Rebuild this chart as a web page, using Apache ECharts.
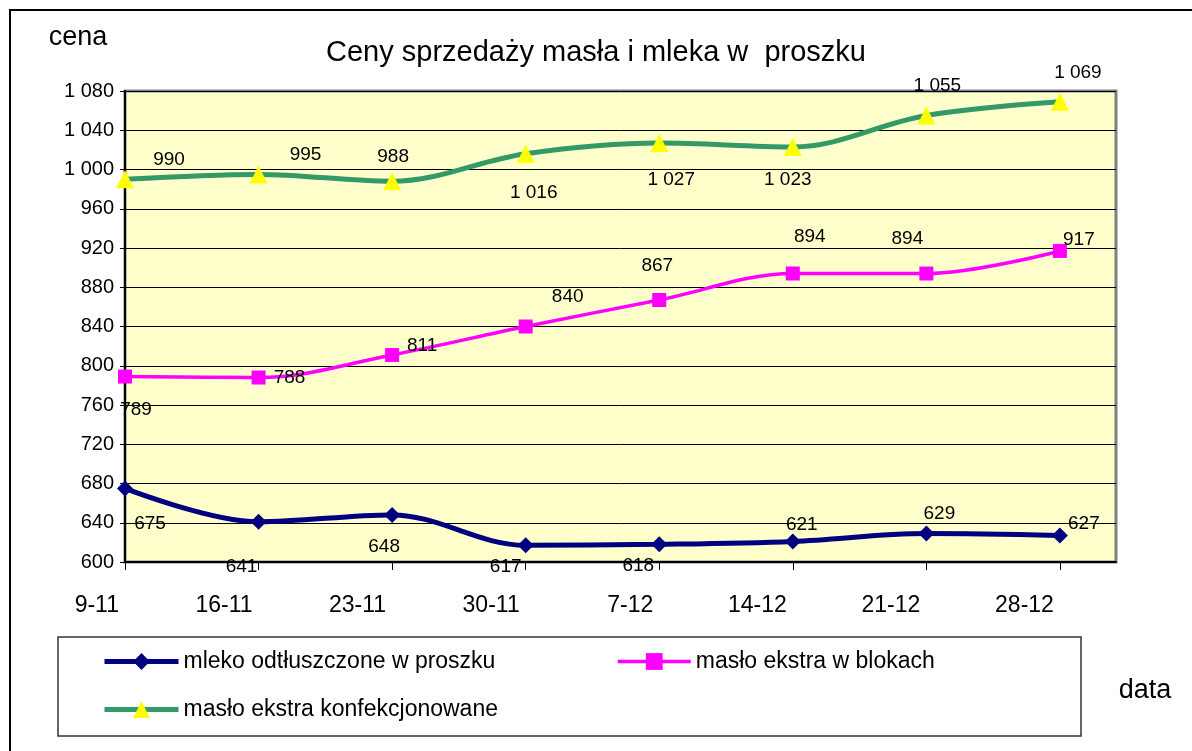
<!DOCTYPE html>
<html>
<head>
<meta charset="UTF-8">
<script src="https://cdn.jsdelivr.net/npm/echarts@6/dist/echarts.min.js"></script>
<style>
html, body { margin: 0; padding: 0; background: #fff; }
#chart { width: 1192px; height: 751px; }
</style>
</head>
<body>
<div id="chart"></div>
<script>
// tygodnie (oś X)
var weeks = ['9-11', '16-11', '23-11', '30-11', '7-12', '14-12', '21-12', '28-12'];
// ceny
var mleko = [675, 641, 648, 617, 618, 621, 629, 627];
var masloBloki = [789, 788, 811, 840, 867, 894, 894, 917];
var masloKonf = [990, 995, 988, 1016, 1027, 1023, 1055, 1069];
var names = ['mleko odtłuszczone w proszku', 'masło ekstra w blokach', 'masło ekstra konfekcjonowane'];

// przesunięcia etykiet względem punktów (jak w oryginale)
var mlekoLabelPos = [[25, 35], [-17, 45], [-8, 32], [-20, 21], [-21, 21], [9, -17], [13, -20], [24, -12]];
var blokiLabelPos = [[11, 33], [31, 0], [30, -9], [42, -30], [-2, -34], [17, -37], [-19, -35], [19, -11]];
var konfLabelPos = [[44, -20], [47, -20], [1, -25], [8, 39], [12, 37], [-5, 33], [11, -30], [18, -29]];

var FONT = '"Liberation Sans", Arial, sans-serif';

function fmt(v) {
    v = Math.round(v);
    if (v >= 1000) {
        var r = String(v % 1000);
        while (r.length < 3) r = '0' + r;
        return Math.floor(v / 1000) + ' ' + r;
    }
    return String(v);
}

function pts(values, offs) {
    return values.map(function (v, i) {
        return { value: [i, v], label: { offset: offs[i] } };
    });
}

var weekIdx = weeks.map(function (w, i) { return i; });

var labelStyle = {
    show: true,
    position: 'inside',
    color: '#000',
    fontSize: 19,
    fontFamily: FONT,
    textBorderWidth: 0,
    formatter: function (p) { return fmt(p.value[1]); }
};

var legendCommon = {
    padding: 0, itemHeight: 21,
    lineStyle: { width: 'inherit' },
    textStyle: { fontSize: 23, color: '#000', fontFamily: FONT }
};

var option = {
    animation: false,
    backgroundColor: '#fff',
    title: {
        text: 'Ceny sprzedaży masła i mleka w  proszku',
        left: 'center',
        top: 33,
        padding: [5, 5, 5, 33],
        textStyle: { fontSize: 29, fontWeight: 'normal', color: '#000', fontFamily: FONT }
    },
    grid: {
        left: 125, top: 91, right: 76, bottom: 189,
        show: true,
        backgroundColor: '#FFFFCC',
        borderColor: '#808080',
        borderWidth: 3
    },
    legend: [
        Object.assign({ data: [names[0]], left: 102, top: 650, itemWidth: 74 }, legendCommon),
        Object.assign({ data: [names[1]], left: 616, top: 650, itemWidth: 73 }, legendCommon),
        Object.assign({ data: [names[2]], left: 102, top: 698, itemWidth: 74 }, legendCommon)
    ],
    xAxis: {
        type: 'value',
        min: 0,
        max: 7.42,
        interval: 1,
        axisLine: { show: true, lineStyle: { color: '#000', width: 2 } },
        axisTick: { show: true, length: 8, customValues: weekIdx, lineStyle: { color: '#000' } },
        axisLabel: {
            customValues: weekIdx,
            formatter: function (v) { return weeks[v] || ''; },
            align: 'right',
            padding: [0, 6, 0, 0],
            margin: 32,
            fontSize: 23,
            color: '#000',
            fontFamily: FONT
        },
        splitLine: { show: false }
    },
    yAxis: {
        type: 'value',
        min: 600,
        max: 1080,
        interval: 40,
        axisLine: { show: true, lineStyle: { color: '#000', width: 2 } },
        axisTick: { show: true, length: 5, lineStyle: { color: '#000' } },
        axisLabel: { margin: 11, fontSize: 20, color: '#000', fontFamily: FONT, formatter: fmt },
        splitLine: { show: true, lineStyle: { color: '#000', width: 1 } }
    },
    graphic: [
        { type: 'rect', silent: true, z: -10,
          shape: { x: 10, y: 10, width: 1400, height: 1000 },
          style: { fill: 'none', stroke: '#000', lineWidth: 2 } },
        { type: 'rect', silent: true,
          shape: { x: 58, y: 637, width: 1023, height: 99 },
          style: { fill: 'none', stroke: '#333', lineWidth: 1.5 } },
        { type: 'text', silent: true, x: 78, y: 38,
          style: { text: 'cena', fill: '#000', font: '27px ' + FONT, align: 'center', verticalAlign: 'middle' } },
        { type: 'text', silent: true, x: 1145, y: 691,
          style: { text: 'data', fill: '#000', font: '27px ' + FONT, align: 'center', verticalAlign: 'middle' } }
    ],
    series: [
        {
            name: names[0], type: 'line', smooth: 0.35,
            data: pts(mleko, mlekoLabelPos),
            symbol: 'diamond', symbolSize: 16,
            itemStyle: { color: '#000080' },
            lineStyle: { color: '#000080', width: 5 },
            label: labelStyle
        },
        {
            name: names[1], type: 'line', smooth: 0.35,
            data: pts(masloBloki, blokiLabelPos),
            symbol: 'rect', symbolSize: 14,
            itemStyle: { color: '#FF00FF' },
            lineStyle: { color: '#FF00FF', width: 3.5 },
            label: labelStyle
        },
        {
            name: names[2], type: 'line', smooth: 0.35,
            data: pts(masloKonf, konfLabelPos),
            symbol: 'triangle', symbolSize: [18, 18],
            itemStyle: { color: '#FFFF00' },
            lineStyle: { color: '#339966', width: 5 },
            label: labelStyle
        }
    ]
};

var myChart = echarts.init(document.getElementById('chart'));
myChart.setOption(option);
</script>
</body>
</html>
